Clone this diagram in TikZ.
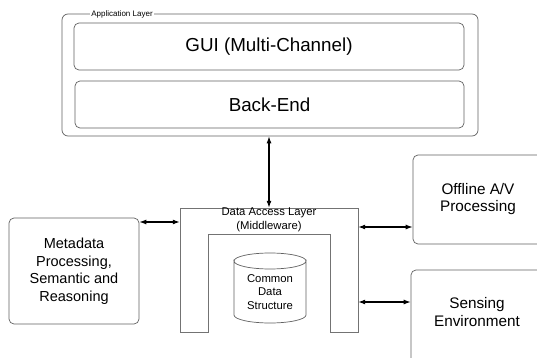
\documentclass[tikz,border=0pt]{standalone}
\usepackage{fontspec}
\setmainfont{Liberation Sans}
\usetikzlibrary{arrows.meta}
\begin{document}
\begin{tikzpicture}[x=1pt,y=-1pt,
  box/.style={draw=black!62, line width=0.7pt, rounded corners=5pt, inner sep=0pt, align=center},
  conn/.style={{Latex[length=7pt,width=5pt]}-{Latex[length=7pt,width=5pt]}, line width=1.1pt, black},
  lbl/.style={align=center, inner sep=0pt}]
\useasboundingbox (0,0) rectangle (537,358);
\clip (0,0) rectangle (537,358);
% Application layer
\node[box, rounded corners=6pt, minimum width=416pt, minimum height=122pt] (app) at (270,75) {};
\node[fill=white, inner xsep=1pt, inner ysep=0.5pt, font=\fontsize{8}{9}\selectfont] (applbl) at (122,14.5) {Application Layer};
\node[box, minimum width=390pt, minimum height=47pt, font=\fontsize{18.8}{21}\selectfont] (gui) at (269,46.5) {GUI (Multi-Channel)};
\node[box, minimum width=389pt, minimum height=47pt, font=\fontsize{18.8}{21}\selectfont] (be) at (269.5,104.5) {Back-End};
% Data access layer (inverted U)
\draw[black!55, line width=0.7pt] (180,332) -- (180,208) -- (358,208) -- (358,332) -- (330,332) -- (330,234) -- (208,234) -- (208,332) -- cycle;
\node[inner sep=0pt, minimum width=178pt, minimum height=124pt] (dal) at (269,270) {};
\node[lbl, font=\fontsize{11.3}{14}\selectfont] (daltxt) at (269,220) {Data Access Layer\\(Middleware)};
% Cylinder
\draw[black!62, line width=0.7pt, fill=white] (234,261) -- (234,315) arc[start angle=180, end angle=360, x radius=36pt, y radius=8pt] -- (306,261) arc[start angle=0, end angle=-180, x radius=36pt, y radius=8pt] -- cycle;
\draw[black!62, line width=0.7pt] (234,261) arc[start angle=180, end angle=0, x radius=36pt, y radius=8pt];
\node[lbl, font=\fontsize{11.3}{13.5}\selectfont] (cds) at (270,292) {Common\\Data\\Structure};
% Side boxes
\node[box, minimum width=130pt, minimum height=106pt, font=\fontsize{14.5}{17.5}\selectfont] (meta) at (74,271) {Metadata\\Processing,\\Semantic and\\Reasoning};
\node[box, minimum width=130pt, minimum height=89pt, font=\fontsize{15.3}{17}\selectfont] (off) at (478,199.5) {Offline A/V\\Processing};
\node[box, minimum width=134pt, minimum height=96pt] (sens) at (478,318) {};
\node[lbl, font=\fontsize{15.3}{17.5}\selectfont] (senstxt) at (477,312) {Sensing\\Environment};
% Connectors
\draw[conn] (app.south -| 269,0) -- (dal.north -| 269,0);
\draw[conn] (meta.east |- 0,222) -- (dal.west |- 0,222);
\draw[conn] (dal.east |- 0,227) -- (off.west |- 0,227);
\draw[conn] (dal.east |- 0,302) -- (sens.west |- 0,302);
\end{tikzpicture}
\end{document}
